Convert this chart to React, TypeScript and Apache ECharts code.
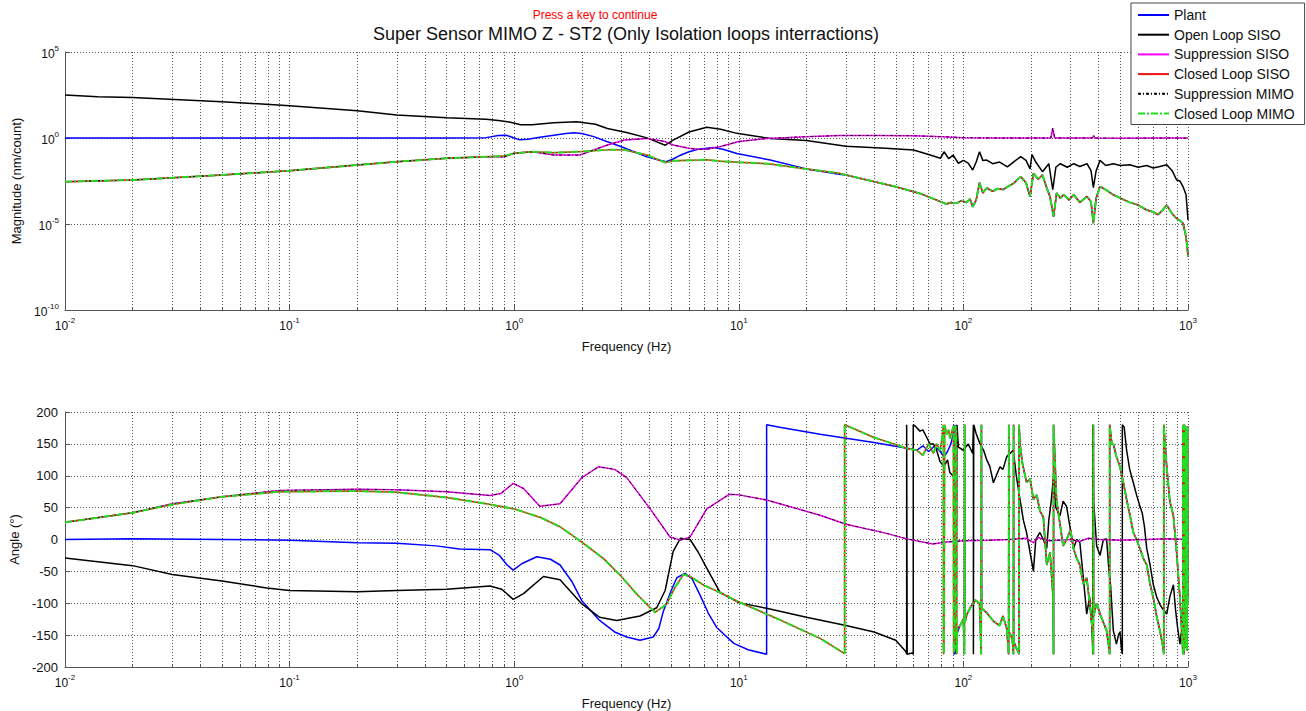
import React, { useEffect, useRef } from 'react';
import * as echarts from 'echarts';

type Pt = [number, number];

const seriesNames = ['Plant', 'Open Loop SISO', 'Suppression SISO', 'Closed Loop SISO', 'Suppression MIMO', 'Closed Loop MIMO'];
const freqRange = [0.01, 1000];
const magRange = [1e-10, 1e5];
const phaseTicks = [-200, -150, -100, -50, 0, 50, 100, 150, 200];

// ---------- Magnitude (nm/count) ----------
const plantMag: Pt[] = [
  [0.01, 1.0], [0.1, 1.0], [0.3, 1.0], [0.5, 1.0], [0.75, 1.05], [0.85, 1.4], [0.92, 1.45], [0.98, 1.1],
  [1.05, 0.8], [1.15, 0.85], [1.3, 1.1], [1.5, 1.45], [1.7, 1.8], [1.85, 2.0], [2.0, 1.85], [2.26, 1.2],
  [2.6, 0.6], [3.0, 0.31], [3.5, 0.14], [3.9, 0.081], [4.4, 0.052], [4.75, 0.042], [5.1, 0.06], [5.5, 0.1],
  [6.0, 0.16], [6.6, 0.22], [7.7, 0.28], [8.5, 0.22], [9.8, 0.126], [13.8, 0.052], [20, 0.016], [28, 0.0079],
];

const olMag: Pt[] = [
  [0.01, 316], [0.014, 251], [0.02, 229], [0.05, 129], [0.1, 76], [0.2, 39], [0.3, 22], [0.5, 15],
  [0.75, 12.3], [0.85, 10.5], [0.95, 8.5], [1.07, 5.9], [1.2, 5.8], [1.5, 7.6], [1.9, 8.9], [2.3, 6.3],
  [2.6, 3.6], [3.2, 2.0], [3.9, 1.02], [4.7, 0.38], [5.1, 0.76], [6.0, 2.24], [7.2, 4.2], [8.3, 3.2],
  [9.8, 1.86], [13.8, 0.95], [20, 0.71], [30, 0.33], [45, 0.25], [60, 0.2], [70, 0.11], [79, 0.066],
  [82, 0.158], [86, 0.063], [90, 0.1], [95, 0.034], [100, 0.05], [105, 0.035], [110, 0.0138], [114, 0.04],
  [118, 0.158], [122, 0.05], [127, 0.052], [135, 0.032], [145, 0.04], [157, 0.021], [167, 0.04], [180, 0.083],
  [190, 0.05], [198, 0.016], [202, 0.11], [210, 0.04], [225, 0.011], [240, 0.032], [250, 0.001], [258, 0.02],
  [270, 0.032], [290, 0.02], [310, 0.032], [330, 0.022], [355, 0.032], [370, 0.0126], [379, 0.0013], [390, 0.0126],
  [406, 0.05], [430, 0.025], [465, 0.032], [500, 0.025], [550, 0.028], [600, 0.02], [655, 0.025], [700, 0.018],
  [750, 0.022], [804, 0.028], [850, 0.0126], [890, 0.0036], [920, 0.0032], [950, 0.0015], [980, 0.0005], [1000, 0.000017],
];

const suppMag: Pt[] = [
  [0.01, 0.00288], [0.02, 0.00363], [0.05, 0.00708], [0.1, 0.0126], [0.2, 0.0269], [0.3, 0.0417], [0.5, 0.0661],
  [0.8, 0.0832], [0.9, 0.078], [1.0, 0.13], [1.2, 0.158], [1.5, 0.102], [1.96, 0.102], [2.6, 0.39], [3.1, 0.76],
  [3.9, 0.95], [4.7, 0.62], [5.1, 0.39], [6.0, 0.25], [6.6, 0.22], [7.2, 0.22], [8.3, 0.32], [10, 0.62],
  [13.5, 0.95], [20, 1.2], [28, 1.38], [40, 1.41], [60, 1.35], [80, 1.2], [100, 1.05], [150, 1.0], [200, 1.0],
  [245, 1.0], [250, 3.6], [255, 1.0], [300, 1.0], [375, 1.0], [380, 1.4], [385, 1.0], [500, 0.98], [700, 1.0], [1000, 1.0],
];

const clMag: Pt[] = [
  [0.01, 0.00288], [0.02, 0.00363], [0.05, 0.00708], [0.1, 0.0126], [0.2, 0.0269], [0.3, 0.0417], [0.5, 0.0661],
  [0.8, 0.0832], [0.9, 0.0891], [1.0, 0.129], [1.2, 0.158], [1.5, 0.141], [2.0, 0.162], [2.6, 0.204], [3.1, 0.204],
  [3.9, 0.102], [4.7, 0.0372], [5.1, 0.0468], [6.6, 0.0525], [7.2, 0.055], [8.3, 0.0447], [10, 0.0389],
  [13.5, 0.0316], [20, 0.0158], [28, 0.0089], [30, 0.0071], [50, 0.00148], [64, 6.0e-4], [79, 2.0e-4],
  [84, 1.45e-4], [88, 1.78e-4], [93, 1.58e-4], [98, 2.3e-4], [103, 1.78e-4], [107, 2.8e-4], [110, 1.0e-4],
  [114, 2.5e-4], [118, 2.5e-3], [122, 6.3e-4], [127, 1.26e-3], [135, 7.9e-4], [142, 1.12e-3], [150, 1.0e-3],
  [167, 2.3e-3], [180, 5.6e-3], [190, 2.5e-3], [198, 4.0e-4], [205, 8.9e-3], [215, 4.0e-3], [225, 7.1e-3],
  [235, 1.26e-3], [243, 3.9e-4], [252, 2.7e-5], [260, 6.3e-4], [270, 3.2e-4], [280, 5.0e-4], [295, 2.5e-4],
  [310, 5.0e-4], [330, 1.8e-4], [355, 4.0e-4], [370, 2.0e-4], [379, 1.1e-5], [390, 3.2e-4], [406, 1.5e-3],
  [430, 1.0e-3], [465, 5.0e-4], [500, 3.2e-4], [550, 1.8e-4], [600, 1.26e-4], [655, 6.5e-5], [700, 5.0e-5],
  [735, 3.5e-5], [770, 6.3e-5], [804, 1.26e-4], [850, 4.0e-5], [890, 2.1e-5], [920, 1.6e-5], [950, 1.1e-5],
  [975, 2.5e-6], [990, 6.3e-7], [1000, 1.26e-7],
];

// ---------- Phase (deg) ----------
const plantPh: Pt[] = [
  [0.01, 0], [0.02, 1], [0.05, 0], [0.1, -1], [0.2, -5], [0.3, -6], [0.45, -10], [0.57, -15], [0.78, -16],
  [0.86, -25], [0.93, -40], [0.99, -48], [1.08, -38], [1.26, -27], [1.45, -31], [1.6, -40], [1.8, -65],
  [2.0, -96], [2.4, -127], [2.8, -145], [3.17, -153], [3.63, -158], [4.16, -153], [4.4, -140], [4.62, -112],
  [5.0, -80], [5.3, -60], [5.76, -53], [6.2, -62], [6.7, -86], [7.3, -115], [7.97, -138], [9.5, -163],
  [11, -173], [13.3, -180], [13.3, 180], [15.2, 176], [23, 165], [40, 152], [56, 143], [62, 140], [66, 147],
  [70, 138], [74, 146], [78, 140], [82, 130], [85, 138], [88, 150], [90, 165], [90.8, 180], [90.8, -180],
  [92, -178], [93, -150],
];

const olPh: Pt[] = [
  [0.01, -29], [0.02, -41], [0.03, -55], [0.05, -65], [0.079, -76], [0.1, -80], [0.2, -82], [0.3, -80],
  [0.5, -78], [0.78, -73], [0.88, -78], [0.99, -94], [1.1, -85], [1.35, -58], [1.6, -63], [2.0, -101],
  [2.4, -122], [2.86, -127], [3.63, -120], [4.31, -107], [4.7, -80], [5.1, -19], [5.5, 2], [6.07, 0],
  [6.6, -20], [7.2, -45], [8.25, -83], [10, -99], [13.3, -108], [20, -122], [30, -135], [40, -145],
  [50, -158], [55.5, -176], [55.9, -180], [55.9, 180], [56.2, -180], [59, -178], [59.8, -180], [59.8, 180],
  [61, 178], [64, 170], [66, 172], [68.7, 160], [71, 150], [73.5, 150], [76, 140], [78.7, 122], [82, 115],
  [85, 125], [87, 105], [90.3, 99], [92, 110], [92.5, 150], [93, 180], [93, -180], [93.6, -180], [93.6, 180],
  [95, 145], [100, 140], [105, 150], [110, 135], [110.8, 180], [110.8, -180], [111.2, 180], [114, 166],
  [118.6, 150], [123, 140], [127, 125], [131, 115], [136, 89], [140, 100], [145.5, 114], [150, 110],
  [156, 130], [161, 135], [166.8, 140], [172, 100], [178.6, 63], [185, 30], [191, 11], [198, -20],
  [205, -50], [210, 0], [214, 5], [219, 11], [227, 0], [235, -14], [240, 30], [246, 60], [252, 99],
  [258, 50], [269, 37], [278, 60], [288, 52], [298, 20], [309, -14], [320, 0], [330, -5], [342, -60],
  [354, -117], [365, -90], [374, -140], [377, -180], [377, 180], [380, 60], [392, -10], [406, -25],
  [420, 0], [434, 1], [445, -50], [452, -71], [465, -143], [480, -164], [490, -150], [498, -145],
  [505, -170], [510, -180], [510, 180], [520, 176], [533, 140], [550, 110], [571, 89], [590, 70],
  [611, 52], [625, 42], [640, 20], [655, -14], [678, -40], [701, -71], [725, -90], [750, -102],
  [775, -110], [804, -117], [830, -90], [861, -71], [880, -110], [900, -140], [921, -164], [950, -125],
  [975, -150], [1000, -140],
];

const suppPh: Pt[] = [
  [0.01, 27], [0.02, 42], [0.03, 56], [0.05, 67], [0.09, 77], [0.2, 79], [0.3, 78], [0.5, 75], [0.78, 69],
  [0.87, 72], [0.99, 88], [1.1, 80], [1.3, 52], [1.6, 56], [2.0, 97], [2.37, 114], [2.8, 110], [3.17, 97],
  [4.03, 48], [4.94, 4], [5.5, -1], [6.07, 4], [7.2, 48], [9.1, 71], [10, 70], [13.3, 62], [23, 38],
  [30, 24], [45, 10], [56, 1], [73, -7], [84, -4], [100, -2], [130, -1], [160, 0], [190, 2], [205, -5],
  [215, 3], [240, -2], [300, 0], [330, -3], [360, 2], [400, 0], [500, -1], [650, 0], [800, 1], [1000, 0],
];

const clPh: Pt[] = [
  [0.01, 27], [0.02, 42], [0.03, 55], [0.05, 67], [0.09, 75], [0.2, 76], [0.3, 74], [0.5, 66], [0.75, 56],
  [1.0, 48], [1.3, 35], [1.6, 20], [2.0, -4], [2.5, -30], [3.0, -58], [3.5, -85], [4.03, -107], [4.24, -114],
  [4.5, -108], [4.77, -101], [5.2, -75], [5.67, -55], [6.07, -58], [7.0, -72], [8.0, -81], [10, -98],
  [15, -125], [23, -155], [29.6, -179], [29.6, 180], [40, 160], [56, 143], [62, 140], [66, 132], [70, 150],
  [73.5, 135], [76, 150], [78.7, 140], [80.5, 160], [81.5, 180], [81.5, -180], [82, -175], [82.5, 180],
  [84.3, 165], [86, 172], [87.2, 158], [89, 170], [90.3, 178], [90.5, -178], [91.5, -170], [92.2, 178],
  [93, 170], [93.4, -179], [94, -140], [96.6, -135], [100, -125], [101, -180], [101.3, 180], [101.6, -130],
  [103.5, -118], [108, -105], [113, -95], [118, -100], [120, -180], [120.3, 180], [120.6, -108], [127, -115],
  [136, -128], [145, -135], [150, -120], [156, -140], [159, -180], [159.3, 180], [159.6, -145], [165, -155],
  [167, -180], [167.3, 180], [167.6, -160], [172, -170], [177, -180], [177, 180], [178.6, 150], [183, 120],
  [191, 90], [198, 95], [205, 63], [212, 70], [219, 45], [227, 35], [235, -40], [243, -20], [251, -92],
  [252, -180], [252, 180], [260, 60], [269, 25], [278, -10], [288, 0], [300, 15], [309, -14], [320, -30],
  [330, -40], [342, -70], [354, -60], [365, -100], [375, -140], [379, -180], [379, 180], [380, -120],
  [392, -100], [406, -117], [420, -130], [434, -143], [445, -170], [448, -180], [448, 180], [458, 150],
  [465, 150], [480, 130], [498, 114], [515, 90], [533, 63], [550, 40], [571, 11], [590, 0], [611, -14],
  [633, -30], [655, -40], [678, -70], [701, -92], [725, -120], [750, -143], [775, -170], [780, -180],
  [780, 180], [790, 150], [804, 114], [830, 60], [861, 37], [890, -20], [921, -92], [940, -150], [950, -180],
  [950, 180], [960, -180], [965, 180], [975, -170], [980, 175], [990, -175], [995, 178], [1000, -100],
];

const FONT = '"Liberation Sans", Arial, Helvetica, sans-serif';
const GRID_COLOR = '#555';
const dotted = { color: GRID_COLOR, width: 1, type: [1, 2] as number[] };

function expLabel(v: number) {
  const e = Math.round(Math.log10(v));
  return `{b|10}{s|${e}}`;
}
const richExp = {
  b: { fontSize: 12, lineHeight: 16, verticalAlign: 'bottom', fontFamily: FONT, color: '#111' },
  s: { fontSize: 8, lineHeight: 9, verticalAlign: 'top', fontFamily: FONT, color: '#111' },
};

function line(name: string, data: Pt[], idx: number, color: string, width: number, type: any) {
  return {
    name, type: 'line', xAxisIndex: idx, yAxisIndex: idx, data, symbol: 'none', showSymbol: false,
    lineStyle: { color, width, type }, itemStyle: { color }, silent: true, clip: true,
    emphasis: { disabled: true },
  };
}

export default function App() {
  const ref = useRef<HTMLDivElement>(null);
  useEffect(() => {
    if (!ref.current) return;
    const chart = echarts.init(ref.current, undefined, { renderer: 'svg' });
    const plantMagFull = plantMag.concat(clMag.filter(([f]) => f > 28));
    const plantPhFull = plantPh.concat(clPh.filter(([f]) => f > 94));
    const colors = ['#0000ff', '#000000', '#ff00ff', '#ee1111', '#000000', '#22dd22'];
    const widths = [1.5, 1.5, 1.5, 1.5, 1, 2];
    const types: any[] = ['solid', 'solid', 'solid', 'solid', [3, 2, 1, 2], [7, 2, 2, 2]];
    const magSets = [plantMagFull, olMag, suppMag, clMag, suppMag, clMag];
    const phSets = [plantPhFull, olPh, suppPh, clPh, suppPh, clPh];

    const xAxisBase = (idx: number) => ({
      type: 'log', logBase: 10, gridIndex: idx, min: freqRange[0], max: freqRange[1],
      name: 'Frequency (Hz)', nameLocation: 'middle', nameGap: 30,
      nameTextStyle: { fontSize: 13, fontFamily: FONT, color: '#111' },
      axisLine: { show: true, onZero: false, lineStyle: { color: GRID_COLOR, width: 1 } },
      axisTick: { show: true, inside: true, length: 5, lineStyle: { color: GRID_COLOR } },
      minorTick: { show: true, splitNumber: 9, length: 3, lineStyle: { color: GRID_COLOR } },
      splitLine: { show: true, lineStyle: dotted },
      minorSplitLine: { show: true, lineStyle: dotted },
      axisLabel: { formatter: expLabel, rich: richExp, margin: 6, showMinLabel: true, showMaxLabel: true },
    });

    const option: any = {
      animation: false,
      backgroundColor: '#ffffff',
      graphic: [
        { type: 'text', x: 595, y: 15, style: { text: 'Press a key to continue', fill: '#ff0000', font: `12px ${FONT}`, textAlign: 'center', textVerticalAlign: 'middle' } },
        { type: 'text', x: 626, y: 34, style: { text: 'Super Sensor MIMO Z - ST2 (Only Isolation loops interractions)', fill: '#111', font: `18px ${FONT}`, textAlign: 'center', textVerticalAlign: 'middle' } },
      ],
      legend: {
        data: seriesNames, orient: 'vertical', left: 1131, top: 3, padding: [5, 10, 4, 6],
        itemWidth: 31, itemHeight: 14, itemGap: 5.7, selectedMode: false,
        backgroundColor: '#ffffff', borderColor: '#444', borderWidth: 1, borderRadius: 0,
        textStyle: { fontSize: 14, lineHeight: 14, fontFamily: FONT, color: '#111' },
        itemStyle: { opacity: 0, borderWidth: 0 },
      },
      grid: [
        { left: 65, top: 52, width: 1123, height: 258 },
        { left: 65, top: 412, width: 1123, height: 257 },
      ],
      xAxis: [xAxisBase(0), xAxisBase(1)],
      yAxis: [
        {
          type: 'log', logBase: 100000, gridIndex: 0, min: magRange[0], max: magRange[1],
          name: 'Magnitude (nm/count)', nameLocation: 'middle', nameGap: 38, nameRotate: 90,
          nameTextStyle: { fontSize: 13, fontFamily: FONT, color: '#111' },
          axisLine: { show: true, onZero: false, lineStyle: { color: GRID_COLOR, width: 1 } },
          axisTick: { show: true, inside: true, length: 5, lineStyle: { color: GRID_COLOR } },
          splitLine: { show: true, lineStyle: dotted },
          axisLabel: { formatter: expLabel, rich: richExp, margin: 6 },
        },
        {
          type: 'value', gridIndex: 1, min: phaseTicks[0], max: phaseTicks[phaseTicks.length - 1], interval: 50,
          name: 'Angle (°)', nameLocation: 'middle', nameGap: 38, nameRotate: 90,
          nameTextStyle: { fontSize: 13, fontFamily: FONT, color: '#111' },
          axisLine: { show: true, onZero: false, lineStyle: { color: GRID_COLOR, width: 1 } },
          axisTick: { show: true, inside: true, length: 5, lineStyle: { color: GRID_COLOR } },
          splitLine: { show: true, lineStyle: dotted },
          axisLabel: { fontSize: 13, fontFamily: FONT, color: '#111', margin: 7 },
        },
      ],
      series: [
        ...seriesNames.map((n, i) => line(n, magSets[i], 0, colors[i], widths[i], types[i])),
        ...seriesNames.map((n, i) => line(n, phSets[i], 1, colors[i], widths[i], types[i])),
      ],
    };
    chart.setOption(option);
    return () => chart.dispose();
  }, []);
  return <div ref={ref} style={{ position: 'fixed', left: 0, top: 0, width: 1306, height: 711, background: '#fff' }} />;
}
